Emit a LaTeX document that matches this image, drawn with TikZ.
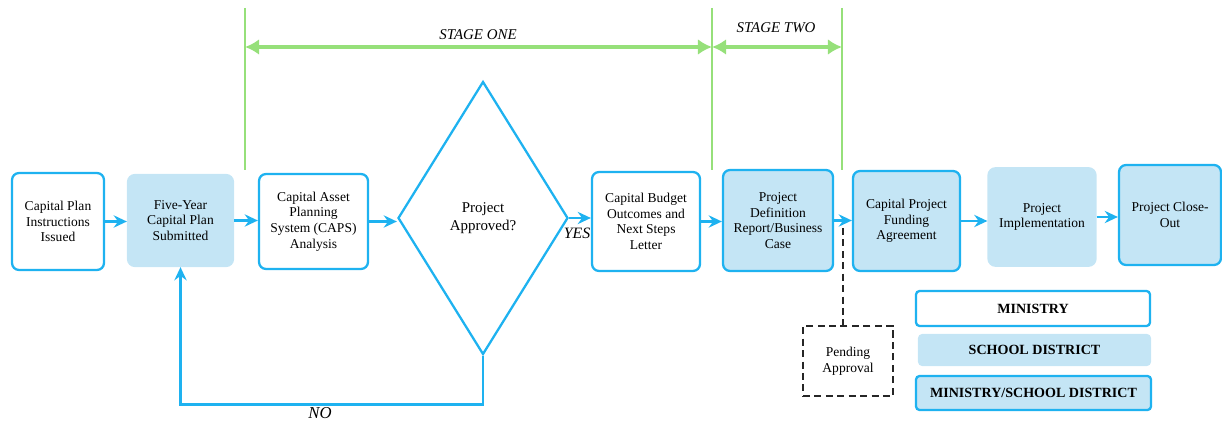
\documentclass[tikz,border=0pt]{standalone}
\usepackage{fontspec}
\setmainfont{Liberation Serif}
\usetikzlibrary{shapes.geometric, arrows.meta}
\definecolor{flowblue}{RGB}{30,178,240}
\definecolor{flowfill}{RGB}{196,229,245}
\definecolor{stagegreen}{RGB}{150,224,122}

\begin{document}
\begin{tikzpicture}[x=0.02cm, y=-0.02cm]
\tikzstyle{ministry} = [draw=flowblue, fill=white, line width=1.3pt, rounded corners=4pt, align=center, font=\fontsize{7.7}{8.9}\selectfont, minimum width=2.14cm, minimum height=1.95cm, inner sep=1pt]
\tikzstyle{district} = [ministry, draw=flowfill, fill=flowfill]
\tikzstyle{shared} = [ministry, fill=flowfill]
\tikzstyle{decision} = [draw=flowblue, line width=1.3pt, shape=diamond, minimum width=3.4cm, minimum height=5.46cm, align=center, font=\fontsize{8.5}{10}\selectfont, inner sep=0pt]
\tikzstyle{pendingbox} = [draw=black!85, dash pattern=on 4pt off 2.5pt, line width=1pt, minimum width=1.8cm, minimum height=1.4cm, align=center, font=\fontsize{7.7}{8.9}\selectfont]
\tikzstyle{legend} = [line width=1.3pt, rounded corners=2pt, font=\bfseries\fontsize{8}{9}\selectfont, minimum width=4.68cm, minimum height=0.7cm]
\tikzstyle{flow} = [->, >={Stealth[length=7.5pt,width=7pt,inset=2.5pt]}, draw=flowblue, line width=1.3pt]
\tikzstyle{stage} = [<->, >={Latex[length=8pt,width=9pt]}, draw=stagegreen, line width=2.2pt]
\tikzstyle{stagebar} = [draw=stagegreen, line width=1.5pt]
\tikzstyle{stagetext} = [font=\itshape\fontsize{8.5}{9}\selectfont]
  \useasboundingbox (0,0) rectangle (1222,425);

  \draw
  node (issued) [ministry, minimum width=1.84cm, minimum height=1.94cm] at (58,221.5) {Capital Plan\\Instructions\\Issued}
  node (submitted) [district, minimum width=2.1cm, minimum height=1.82cm] at (180.5,220.5) {Five-Year\\Capital Plan\\Submitted}
  node (caps) [ministry, minimum width=2.18cm, minimum height=1.9cm] at (313.5,221.5) {Capital Asset\\Planning\\System (CAPS)\\Analysis}
  node (approved) [decision] at (483,218) {Project\\Approved?}
  node (budget) [ministry, minimum width=2.16cm, minimum height=1.98cm] at (646,221.5) {Capital Budget\\Outcomes and\\Next Steps\\Letter}
  node (definition) [shared, minimum width=2.2cm, minimum height=2.02cm] at (778,220.5) {Project\\Definition\\Report/Business\\Case}
  node (funding) [shared, minimum height=2cm] at (906.5,221) {Capital Project\\Funding\\Agreement}
  node (implementation) [district] at (1042,217) {Project\\Implementation}
  node (closeout) [shared, minimum width=2.04cm, minimum height=2cm] at (1170,215) {Project Close-\\Out};

  % flow along the top row
  \draw [flow] (issued.east) -- (issued.east -| submitted.west);
  \draw [flow] (submitted.east) -- (submitted.east -| caps.west);
  \draw [flow] (caps.east) -- (caps.east -| approved.west);
  \draw [flow] (approved.east) -- (approved.east -| budget.west);
  \draw [flow] (budget.east) -- (budget.east -| definition.west);
  \draw [flow] (definition.east) -- (definition.east -| funding.west);
  \draw [flow] (funding.east) -- (funding.east -| implementation.west);
  \draw [flow] (implementation.east) -- (implementation.east -| closeout.west);
  \draw [flow] (approved.south) -- ++(0,49) -| (submitted.south);

  \node (yes) [font=\itshape\fontsize{9}{10}\selectfont] at (577,233) {YES};
  \node (no) [font=\itshape\fontsize{9.5}{10}\selectfont] at (320,413) {NO};

  % pending approval
  \node (pending) [pendingbox] at (848,361) {Pending\\Approval};
  \coordinate (tap) at (843,228);
  \draw [draw=black!85, dash pattern=on 4pt off 2.5pt, line width=1pt] (tap) -- (tap |- pending.north);

  % legend
  \node (legministry) [legend, draw=flowblue, fill=white] at (1033,308.5) {MINISTRY};
  \node (legdistrict) [legend, draw=flowfill, fill=flowfill, minimum width=4.62cm, minimum height=0.6cm] at (1034.5,350) {SCHOOL DISTRICT};
  \node (legshared) [legend, draw=flowblue, fill=flowfill, minimum width=4.7cm, minimum height=0.68cm] at (1033.5,393) {MINISTRY/SCHOOL DISTRICT};

  % stages
  \draw [stagebar] (245,8) -- (245,170);
  \draw [stagebar] (712,8) -- (712,170);
  \draw [stagebar] (842,8) -- (842,170);
  \coordinate (s1) at (245,47);
  \coordinate (s2) at (712,47);
  \coordinate (s3) at (842,47);
  \draw [stage] (s1) -- (s2);
  \draw [stage] (s2) -- (s3);
  \node (stageone) [stagetext] at (478,35) {STAGE ONE};
  \node (stagetwo) [stagetext] at (776,28) {STAGE TWO};
\end{tikzpicture}
\end{document}
